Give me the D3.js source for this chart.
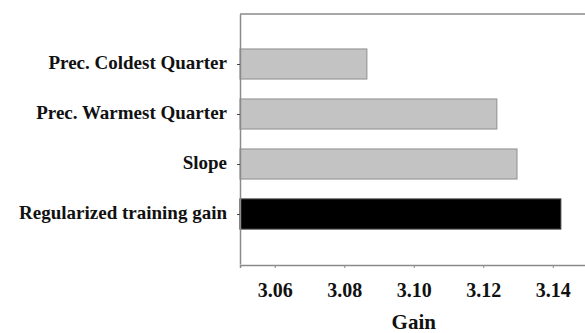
<!DOCTYPE html>
<html lang="en">
  <head>
    <meta charset="utf-8" />
    <title>Gain</title>
    <script type="text/javascript" src="https://d3js.org/d3.v7.min.js"></script>
    <style>
      body { margin: 0; background: #fff; }
      svg text { font-family: "Liberation Serif", serif; font-weight: bold; fill: #111; }
    </style>
  </head>
  <body>
    <script type="text/javascript">
      const WIDTH = 585;
      const HEIGHT = 333;
      const FRAME_COLOR = "#8a8a8a";

      // Data, top to bottom
      const categories = [
        "Prec. Coldest Quarter",
        "Prec. Warmest Quarter",
        "Slope",
        "Regularized training gain",
      ];
      const gains = [3.0865, 3.1239, 3.1297, 3.1423];
      const barFills = ["#c3c3c3", "#c3c3c3", "#c3c3c3", "#000000"];
      const xTicks = [3.06, 3.08, 3.1, 3.12, 3.14];

      const margin = { top: 14, left: 240, bottom: 265, right: 587.5 };

      var x = d3.scaleLinear().domain([3.05, 3.15]).range([margin.left, margin.right]);

      // empty slot above and below the bars
      var y = d3
        .scalePoint()
        .domain(categories)
        .range([margin.top, margin.bottom - 1])
        .padding(1);

      const BAR_H = 30;

      var svg = d3
        .select("body")
        .append("svg")
        .attr("width", WIDTH)
        .attr("height", HEIGHT);

      // bars
      svg
        .selectAll(".bar")
        .data(categories)
        .enter()
        .append("rect")
        .attr("class", "bar")
        .attr("x", x(3.05))
        .attr("y", (d) => y(d) - BAR_H / 2)
        .attr("width", (d, i) => x(gains[i]) - x(3.05))
        .attr("height", BAR_H)
        .attr("fill", (d, i) => barFills[i])
        .attr("stroke", (d, i) => (i === 3 ? "#333" : "#9a9a9a"))
        .attr("stroke-width", 1.2);

      // top frame line
      svg
        .append("line")
        .attr("x1", margin.left)
        .attr("x2", WIDTH)
        .attr("y1", margin.top)
        .attr("y2", margin.top)
        .attr("stroke", FRAME_COLOR)
        .attr("stroke-width", 1.5);

      // x axis
      var xAxis = svg
        .append("g")
        .attr("transform", "translate(0," + margin.bottom + ")")
        .call(
          d3.axisBottom(x).tickValues(xTicks).tickFormat(d3.format(".2f")).tickSize(3).tickPadding(14.5)
        );
      xAxis.attr("font-family", null);
      xAxis.select(".domain").attr("stroke", FRAME_COLOR).attr("stroke-width", 1.5);
      xAxis.selectAll(".tick line").attr("stroke", FRAME_COLOR);
      xAxis.selectAll(".tick text").style("font-size", "20px");

      // y axis
      var yAxis = svg
        .append("g")
        .attr("transform", "translate(" + margin.left + ",0)")
        .call(d3.axisLeft(y).tickSize(3).tickPadding(10).tickSizeOuter(0));
      yAxis.attr("font-family", null);
      yAxis.select(".domain").attr("stroke", FRAME_COLOR).attr("stroke-width", 1.5);
      yAxis.selectAll(".tick line").attr("stroke", "#444");
      yAxis
        .selectAll(".tick text")
        .attr("dy", "0.22em")
        .style("font-size", "19px");

      // axis title
      svg
        .append("text")
        .attr("x", (margin.left + margin.right) / 2)
        .attr("y", 329)
        .attr("text-anchor", "middle")
        .style("font-size", "21px")
        .text("Gain");
    </script>
  </body>
</html>
